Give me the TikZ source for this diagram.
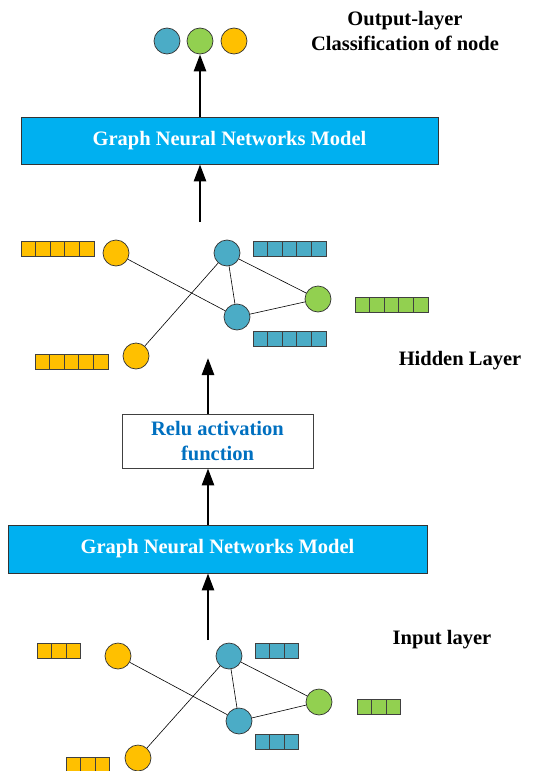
\documentclass[tikz,border=0pt]{standalone}
\usepackage{fontspec}
\setmainfont{Liberation Serif}
\usetikzlibrary{arrows.meta,positioning,calc}
\definecolor{gnnblue}{HTML}{00B0F0}
\definecolor{nodeblue}{HTML}{4BACC6}
\definecolor{nodegreen}{HTML}{92D050}
\definecolor{nodeyellow}{HTML}{FFC000}
\definecolor{relutext}{HTML}{0070C0}

% feature vector: x, y (top-left), number of cells, colour
\newcommand{\featbar}[4]{%
  \foreach \k in {1,...,#3}
    \draw[fill=#4, draw=black!75, line width=0.7pt] ({#1+(\k-1)*14.6},#2) rectangle ++(14.6,15);
}

\begin{document}
\begin{tikzpicture}[x=1pt, y=-1pt, font=\bfseries\fontsize{20.5}{25}\selectfont,
  gnode/.style={circle, draw=black!80, line width=0.7pt, minimum size=26pt, inner sep=0pt},
  gnnbox/.style={draw=black!80, line width=0.8pt, fill=gnnblue, text=white},
  edge/.style={line width=0.6pt},
  uparrow/.style={-{Triangle[length=17pt,width=12pt]}, line width=2.6pt}]
  \useasboundingbox (0,0) rectangle (544,771);

  % output layer
  \node[gnode, fill=nodeblue] (out_a) at (167,41) {};
  \node[gnode, fill=nodegreen] (out_b) at (200,41) {};
  \node[gnode, fill=nodeyellow] (out_c) at (234,41) {};
  \node[align=center] (out_label) at (405,31) {Output-layer\\Classification of node};

  % upper model
  \node[gnnbox, minimum width=417pt, minimum height=47pt] (gnn_top) at (229.5,140.5) {Graph Neural Networks Model};

  % hidden layer
  \node[gnode, fill=nodeyellow] (h_y1) at (116,253) {};
  \node[gnode, fill=nodeyellow] (h_y2) at (136,356) {};
  \node[gnode, fill=nodeblue] (h_b1) at (227,253) {};
  \node[gnode, fill=nodeblue] (h_b2) at (237,317) {};
  \node[gnode, fill=nodegreen] (h_g) at (318,299) {};
  \featbar{21}{241}{5}{nodeyellow}
  \featbar{35}{354}{5}{nodeyellow}
  \featbar{253}{241}{5}{nodeblue}
  \featbar{253}{331}{5}{nodeblue}
  \featbar{355}{297}{5}{nodegreen}
  \draw[edge] (h_y1) -- (h_b2);
  \draw[edge] (h_y2) -- (h_b1);
  \draw[edge] (h_b1) -- (h_b2);
  \draw[edge] (h_b1) -- (h_g);
  \draw[edge] (h_b2) -- (h_g);
  \node (hidden_label) at (460,361) {Hidden Layer};

  % relu
  \node[draw=black!75, line width=0.8pt, fill=white, text=relutext, align=center,
        minimum width=191pt, minimum height=54pt] (relu) at (217.5,441) {Relu activation\\function};

  % lower model
  \node[gnnbox, minimum width=419pt, minimum height=48pt] (gnn_bot) at (217.5,549) {Graph Neural Networks Model};

  % input layer
  \node[gnode, fill=nodeyellow] (i_y1) at (118,656) {};
  \node[gnode, fill=nodeyellow] (i_y2) at (138,758) {};
  \node[gnode, fill=nodeblue] (i_b1) at (229,656) {};
  \node[gnode, fill=nodeblue] (i_b2) at (239,721) {};
  \node[gnode, fill=nodegreen] (i_g) at (319,702) {};
  \featbar{37}{643}{3}{nodeyellow}
  \featbar{66}{757}{3}{nodeyellow}
  \featbar{255}{643}{3}{nodeblue}
  \featbar{255}{734}{3}{nodeblue}
  \featbar{357}{699}{3}{nodegreen}
  \draw[edge] (i_y1) -- (i_b2);
  \draw[edge] (i_y2) -- (i_b1);
  \draw[edge] (i_b1) -- (i_b2);
  \draw[edge] (i_b1) -- (i_g);
  \draw[edge] (i_b2) -- (i_g);
  \node (input_label) at (442,640) {Input layer};

  % flow arrows
  \coordinate (hidden_top) at (200,222);
  \coordinate (hidden_bot) at (208,358);
  \coordinate (input_top) at (208,640);
  \draw[uparrow] (gnn_top.north -| out_b) -- (out_b.south);
  \draw[uparrow] (hidden_top) -- (hidden_top |- gnn_top.south);
  \draw[uparrow] (relu.north -| hidden_bot) -- (hidden_bot);
  \draw[uparrow] (gnn_bot.north -| hidden_bot) -- (relu.south -| hidden_bot);
  \draw[uparrow] (input_top) -- (input_top |- gnn_bot.south);
\end{tikzpicture}
\end{document}
